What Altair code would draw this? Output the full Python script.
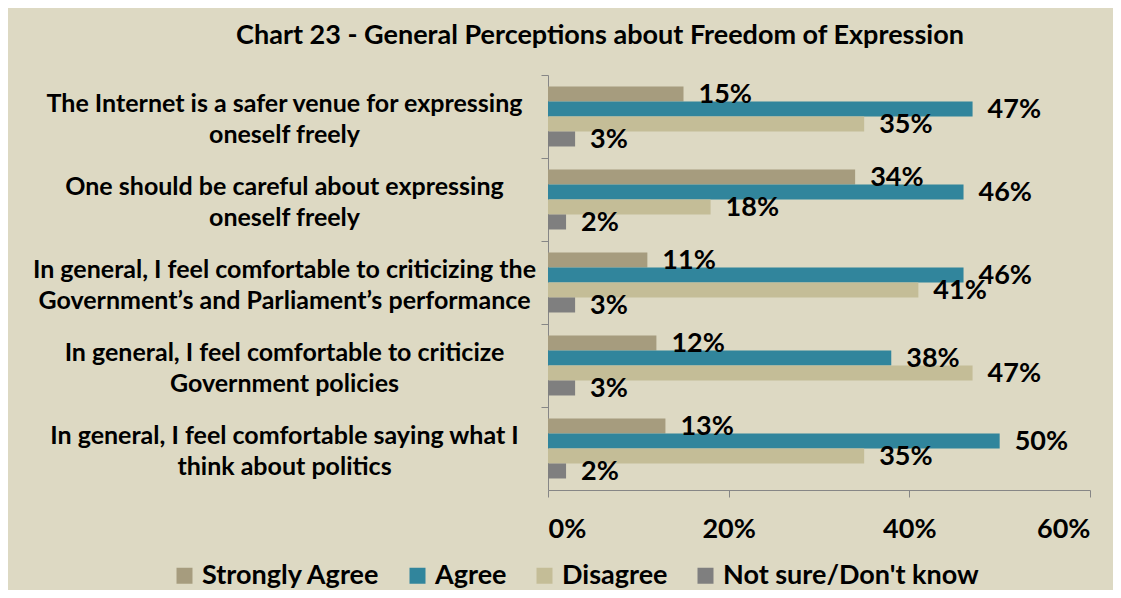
import altair as alt
import pandas as pd

categories = [
    "The Internet is a safer venue for expressing|oneself freely",
    "One should be careful about expressing|oneself freely",
    "In general, I feel comfortable to criticizing the|Government\u2019s and Parliament\u2019s performance",
    "In general, I feel comfortable to criticize|Government policies",
    "In general, I feel comfortable saying what I|think about politics",
]
series = ["Strongly Agree", "Agree", "Disagree", "Not sure/Don't know"]
strongly_agree = [15, 34, 11, 12, 13]
agree = [47, 46, 46, 38, 50]
disagree = [35, 18, 41, 47, 35]
not_sure = [3, 2, 3, 3, 2]
colors = ["#A69C7E", "#31859C", "#C4BD97", "#7F7F7F"]
x_ticks = [0, 20, 40, 60]

rows = []
for i, c in enumerate(categories):
    for s, vals in zip(series, [strongly_agree, agree, disagree, not_sure]):
        rows.append({"category": c, "series": s, "value": vals[i], "label": f"{vals[i]}%"})
df = pd.DataFrame(rows)

FONT = "Lato"

y_enc = alt.Y(
    "category:N",
    sort=categories,
    scale=alt.Scale(paddingInner=0, paddingOuter=0),
    axis=alt.Axis(
        title=None,
        bandPosition=0,
        labelOffset=-12.5,
        labelExpr="split(datum.label, '|')",
        labelAlign="center",
        labelBaseline="middle",
        labelPadding=257,
        labelLimit=0,
        labelLineHeight=31,
        labelFont=FONT,
        labelFontSize=25,
        labelFontWeight="bold",
        labelColor="#000000",
        tickSize=7,
        tickColor="#868686",
        domainColor="#868686",
        labelBound=False,
        labelOverlap=False,
    ),
)
yoff = alt.YOffset("series:N", sort=series, scale=alt.Scale(paddingInner=0, paddingOuter=0.767))
x_enc = alt.X(
    "value:Q",
    scale=alt.Scale(domain=[0, 60], nice=False),
    axis=alt.Axis(
        title=None,
        values=x_ticks,
        labelExpr="datum.value + '%'",
        grid=False,
        tickSize=7,
        tickColor="#868686",
        domainColor="#868686",
        labelPadding=19,
        labelFont=FONT,
        labelFontSize=27,
        labelFontWeight="bold",
        labelColor="#000000",
    ),
)

bars = alt.Chart(df).mark_bar(size=15).encode(
    x=x_enc,
    y=y_enc,
    yOffset=yoff,
    color=alt.Color(
        "series:N",
        sort=series,
        scale=alt.Scale(domain=series, range=colors),
        legend=alt.Legend(
            title=None,
            orient="none",
            direction="horizontal",
            legendX=-377,
            legendY=487,
            symbolType="square",
            symbolSize=256,
            symbolStrokeWidth=0,
            labelFont=FONT,
            labelFontSize=27,
            labelFontWeight="bold",
            labelColor="#000000",
            labelOffset=4,
            columnPadding=24,
            labelLimit=0,
        ),
    ),
)

texts = alt.Chart(df).mark_text(
    align="left", baseline="middle", dx=15, dy=1,
    font=FONT, fontSize=27, fontWeight="bold", color="#000000",
).encode(
    x="value:Q",
    y=alt.Y("category:N", sort=categories),
    yOffset=alt.YOffset("series:N", sort=series),
    text="label:N",
)

chart = (
    alt.layer(bars, texts)
    .properties(
        width=542,
        height=415,
        autosize=alt.AutoSizeParams(type="none"),
        padding={"left": 540, "top": 67, "right": 23, "bottom": 100},
        background="#DDD9C3",
        title=alt.TitleParams(
            "Chart 23 - General Perceptions about Freedom of Expression",
            anchor="middle",
            frame="group",
            dx=-219,
            offset=4,
            baseline="alphabetic",
            font=FONT,
            fontSize=27,
            fontWeight="bold",
            color="#000000",
        ),
    )
    .configure_view(stroke=None)
)

chart.save("out.html", embed_options={"renderer": "svg", "actions": False})
